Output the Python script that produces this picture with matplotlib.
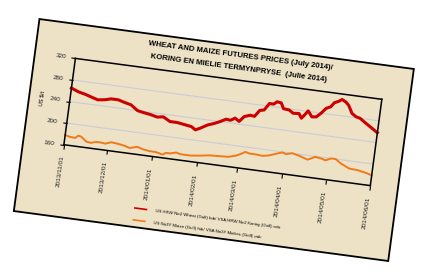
import matplotlib
matplotlib.use("Agg")
import matplotlib.pyplot as plt
import pandas as pd
from matplotlib.patches import Rectangle
from matplotlib.transforms import Affine2D
import mpl_toolkits.axisartist.floating_axes as floating_axes
from mpl_toolkits.axisartist.grid_finder import FixedLocator, DictFormatter

# --- data ---
start = pd.Timestamp("2013-11-01")
tick_dates = ["2013/11/01", "2013/12/01", "2014/01/01", "2014/02/01",
              "2014/03/01", "2014/04/01", "2014/05/01", "2014/06/01"]
y_ticks = [160, 200, 240, 280, 320]

wheat_dates = ["2013-11-01", "2013-11-06", "2013-11-11", "2013-11-16", "2013-11-20",
               "2013-11-25", "2013-11-29", "2013-12-04", "2013-12-08", "2013-12-13",
               "2013-12-18", "2013-12-22", "2013-12-27", "2014-01-01", "2014-01-05",
               "2014-01-10", "2014-01-15", "2014-01-20", "2014-01-25", "2014-01-28",
               "2014-01-31", "2014-02-05", "2014-02-09", "2014-02-13", "2014-02-17",
               "2014-02-20", "2014-02-23", "2014-02-26", "2014-03-01", "2014-03-05",
               "2014-03-08", "2014-03-11", "2014-03-14", "2014-03-17", "2014-03-20",
               "2014-03-22", "2014-03-25", "2014-03-27", "2014-03-31", "2014-04-03",
               "2014-04-07", "2014-04-09", "2014-04-11", "2014-04-13", "2014-04-16",
               "2014-04-19", "2014-04-22", "2014-04-25", "2014-04-28", "2014-04-30",
               "2014-05-03", "2014-05-05", "2014-05-08", "2014-05-10", "2014-05-13",
               "2014-05-16", "2014-05-19", "2014-05-23", "2014-05-26", "2014-06-01"]
wheat = [265, 260, 257, 253, 250, 252, 255, 255, 252, 249,
         240, 238, 236, 233, 235, 228, 228, 226, 224, 219,
         223, 231, 235, 240, 246, 245, 250, 245, 255, 259,
         258, 270, 272, 285, 285, 290, 289, 279, 278, 273,
         274, 266, 273, 281, 271, 272, 280, 290, 294, 302,
         306, 310, 306, 301, 287, 282, 280, 273, 268, 258]

maize_dates = ["2013-11-01", "2013-11-04", "2013-11-08", "2013-11-10", "2013-11-12",
               "2013-11-16", "2013-11-19", "2013-11-23", "2013-11-26", "2013-11-29",
               "2013-12-03", "2013-12-07", "2013-12-12", "2013-12-16", "2013-12-21",
               "2013-12-25", "2013-12-30", "2014-01-03", "2014-01-08", "2014-01-10",
               "2014-01-13", "2014-01-17", "2014-01-20", "2014-01-27", "2014-02-02",
               "2014-02-09", "2014-02-16", "2014-02-22", "2014-02-27", "2014-03-02",
               "2014-03-05", "2014-03-08", "2014-03-12", "2014-03-17", "2014-03-21",
               "2014-03-25", "2014-03-30", "2014-04-02", "2014-04-06", "2014-04-11",
               "2014-04-17", "2014-04-22", "2014-04-27", "2014-04-29", "2014-05-03",
               "2014-05-06", "2014-05-10", "2014-05-16", "2014-05-22", "2014-05-28",
               "2014-06-01"]
maize = [178, 176, 175, 180, 179, 171, 170, 173, 173, 172,
         176, 175, 173, 170, 174, 171, 169, 169, 166, 170,
         170, 173, 171, 171, 173, 176, 177, 178, 182, 186,
         191, 189, 189, 188, 190, 194, 199, 197, 200, 197,
         192, 199, 197, 195, 200, 200, 193, 186, 185, 182,
         179]

title_en = "WHEAT AND MAIZE FUTURES PRICES (July 2014)/"
title_af = "KORING EN MIELIE TERMYNPRYSE  (Julie 2014)"
y_label = "US $/t"
wheat_label = "US HRW No2 Wheat (Gulf) fob/ VSA HRW No2 Koring (Golf) vab"
maize_label = "US No3Y Maize (Gulf) fob/ VSA No3Y Mielies (Golf) vab"

# --- styling ---
FONT = ["Liberation Sans", "DejaVu Sans"]
PAPER = "#ede2c6"
RED = "#cc0000"
ORANGE = "#f07a17"
GRID = "#c9ccd6"
ANGLE = -7.6          # the whole card is tilted clockwise
SX, SY = 1.49, 0.556  # pixels per day / per US$


def days_since_start(dates):
    return list((pd.to_datetime(dates) - start).days)


wheat_x = days_since_start(wheat_dates)
maize_x = days_since_start(maize_dates)
tick_x = days_since_start([d.replace("/", "-") for d in tick_dates])
x0, x1 = tick_x[0], tick_x[-1]
y0, y1 = y_ticks[0], y_ticks[-1]

fig = plt.figure(figsize=(4.26, 2.72), dpi=100)
fig.patch.set_facecolor("white")

tr = Affine2D().scale(SX, SY).rotate_deg(ANGLE)
grid_helper = floating_axes.GridHelperCurveLinear(
    tr, extremes=(x0, x1, y0, y1),
    grid_locator1=FixedLocator(tick_x),
    tick_formatter1=DictFormatter(dict(zip(tick_x, tick_dates))),
    grid_locator2=FixedLocator(y_ticks),
    tick_formatter2=DictFormatter({v: str(v) for v in y_ticks}))

ax = fig.add_axes([0.1425, 0.3114, 0.7613, 0.4801],
                  axes_class=floating_axes.FloatingAxes, grid_helper=grid_helper)
ax.patch.set_visible(False)
aux = ax.get_aux_axes(tr)

# parchment card behind the chart
aux.add_patch(Rectangle((x0 - 28, 27), (x1 - x0) + 47, 356, facecolor=PAPER,
                        edgecolor="black", lw=1.3, clip_on=False, zorder=-10))

ax.grid(True, axis="y", color=GRID, lw=0.8)

for side in ["left", "bottom", "top", "right"]:
    ax.axis[side].line.set_linewidth(1.1)
    ax.axis[side].line.set_color("black")
ax.axis["top"].toggle(ticks=False, ticklabels=False)
ax.axis["right"].toggle(ticks=False, ticklabels=False)
for side in ["left", "bottom"]:
    ax.axis[side].major_ticks.set_tick_out(True)
    ax.axis[side].major_ticks.set_ticksize(3)
    ax.axis[side].major_ticklabels.set(fontsize=4.6, family=FONT, color="#222222")
ax.axis["bottom"].major_ticklabels.set_rotation(90)
ax.axis["bottom"].major_ticklabels.set_ha("right")
ax.axis["bottom"].major_ticklabels.set_va("center")

aux.plot(maize_x, maize, color=ORANGE, lw=1.4, solid_joinstyle="round")
aux.plot(wheat_x, wheat, color=RED, lw=2.2, solid_joinstyle="round")

txt = dict(transform_rotates_text=True, rotation_mode="anchor", clip_on=False, family=FONT)
aux.text(112, 364, title_en, ha="center", va="center", fontsize=5.6, weight="bold", **txt)
aux.text(112, 342, title_af, ha="center", va="center", fontsize=5.6, weight="bold", **txt)
aux.text(-19, 240, y_label, rotation=90, ha="center", va="center", fontsize=4, **txt)

# hand-made legend under the chart
for yy, col, lab in [(62, RED, wheat_label), (40, ORANGE, maize_label)]:
    aux.plot([54, 62], [yy, yy], color=col, lw=1.2, clip_on=False)
    aux.text(68, yy, lab, ha="left", va="center", fontsize=3.2, **txt)

fig.savefig("out.png", dpi=100, facecolor="white")
